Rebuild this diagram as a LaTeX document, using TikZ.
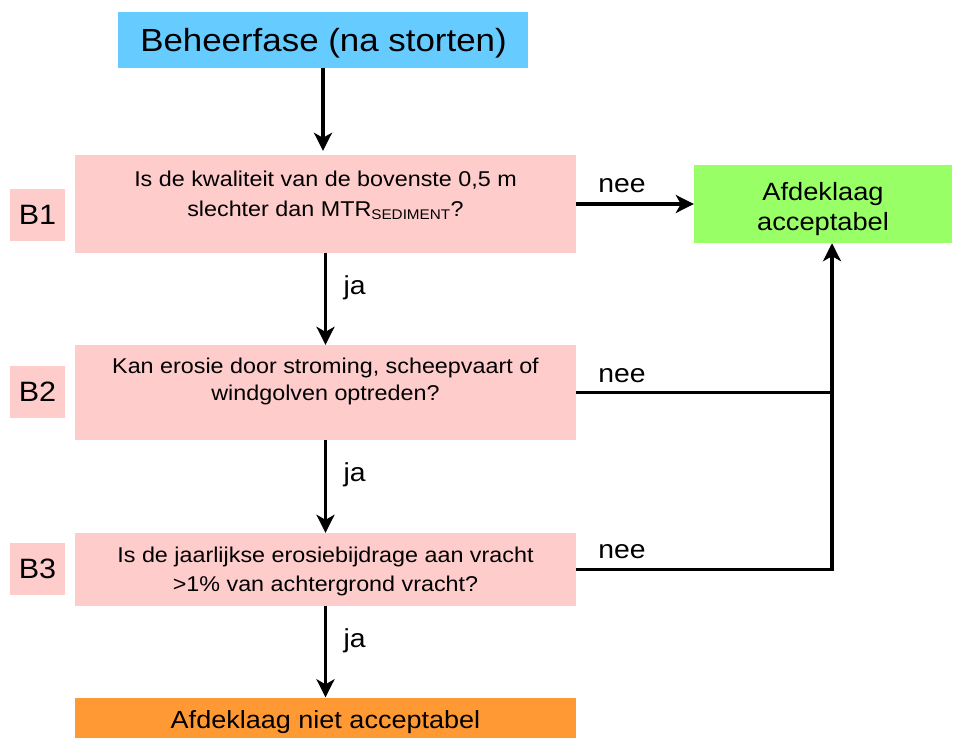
\documentclass[tikz,border=0pt]{standalone}
\usepackage{fontspec}
\setmainfont{Liberation Sans}[FakeStretch=1.09]
\usetikzlibrary{arrows.meta,positioning}
\definecolor{beheerblauw}{HTML}{66CCFF}
\definecolor{vraagroze}{HTML}{FFCCCC}
\definecolor{okgroen}{HTML}{99FF66}
\definecolor{nietoranje}{HTML}{FF9933}

\begin{document}
\begin{tikzpicture}[x=1pt,y=-1pt,
  box/.style={inner sep=0pt,minimum width=501pt},
  vraag/.style={box,fill=vraagroze},
  tekst/.style={inner sep=0pt,align=center,anchor=base},
  code/.style={inner sep=0pt,fill=vraagroze,minimum width=55pt,minimum height=52pt,font=\fontsize{28}{30}\selectfont},
  lbl/.style={inner sep=0pt,anchor=base west,font=\fontsize{26}{30}\selectfont},
  pijl/.style={line width=3.5pt,-{Stealth[length=18pt,width=18pt,inset=5pt]}},
  lijn/.style={line width=3.5pt}]
\useasboundingbox (0,0) rectangle (955,737);
\node[box,fill=beheerblauw,minimum width=410pt,minimum height=56pt] (start) at (323,40) {};
\node[vraag,minimum height=98pt] (b1) at (325.5,204) {};
\node[vraag,minimum height=95pt] (b2) at (325.5,392.5) {};
\node[vraag,minimum height=73pt] (b3) at (325.5,569.5) {};
\node[box,fill=nietoranje,minimum height=48pt] (niet) at (325.5,721.5) {};
\node[box,fill=okgroen,minimum width=258pt,minimum height=78pt] (ok) at (823,204) {};
\node[tekst,font=\fontsize{32}{36}\selectfont] (t0) at (323.5,51.5) {Beheerfase (na storten)};
\node[tekst,font=\fontsize{21.4}{30}\selectfont] (t1) at (325.5,216) {Is de kwaliteit van de bovenste 0,5 m\\slechter dan MTR\textsubscript{\fontsize{14}{14}\selectfont SEDIMENT}?};
\node[tekst,font=\fontsize{21.4}{27}\selectfont] (t2) at (325.5,400.5) {Kan erosie door stroming, scheepvaart of\\windgolven optreden?};
\node[tekst,font=\fontsize{21.4}{29.5}\selectfont] (t3) at (325.5,591.5) {Is de jaarlijkse erosiebijdrage aan vracht\\>1\% van achtergrond vracht?};
\node[tekst,font=\fontsize{24.8}{30}\selectfont] (t4) at (325.5,728) {Afdeklaag niet acceptabel};
\node[tekst,font=\fontsize{25}{30}\selectfont] (t5) at (823,230) {Afdeklaag\\acceptabel};
\node[code] (c1) at (37.5,215) {B1};
\node[code] (c2) at (37.5,392) {B2};
\node[code] (c3) at (37.5,568.5) {B3};
\coordinate (knik) at (832,569.5);
\draw[pijl] (start.south) -- ([yshift=4pt]start.south |- b1.north);
\draw[pijl] (b1.east) -- (ok.west);
\draw[pijl] (b1.south) -- (b2.north);
\draw[pijl] (b2.south) -- (b3.north);
\draw[pijl] (b3.south) -- (niet.north);
\draw[lijn] (b2.east) -- (b2.east -| knik);
\draw[pijl] (b3.east) -- (knik) -- (knik |- ok.south);
\node[lbl] (ja1) at ([xshift=18pt,yshift=-41pt]b1.south) {ja};
\node[lbl] (ja2) at ([xshift=18pt,yshift=-41pt]b2.south) {ja};
\node[lbl] (ja3) at ([xshift=18pt,yshift=-41pt]b3.south) {ja};
\node[lbl] (nee1) at ([xshift=22pt,yshift=12pt]b1.east) {nee};
\node[lbl] (nee2) at ([xshift=22pt,yshift=10pt]b2.east) {nee};
\node[lbl] (nee3) at ([xshift=22pt,yshift=11pt]b3.east) {nee};
\end{tikzpicture}
\end{document}
